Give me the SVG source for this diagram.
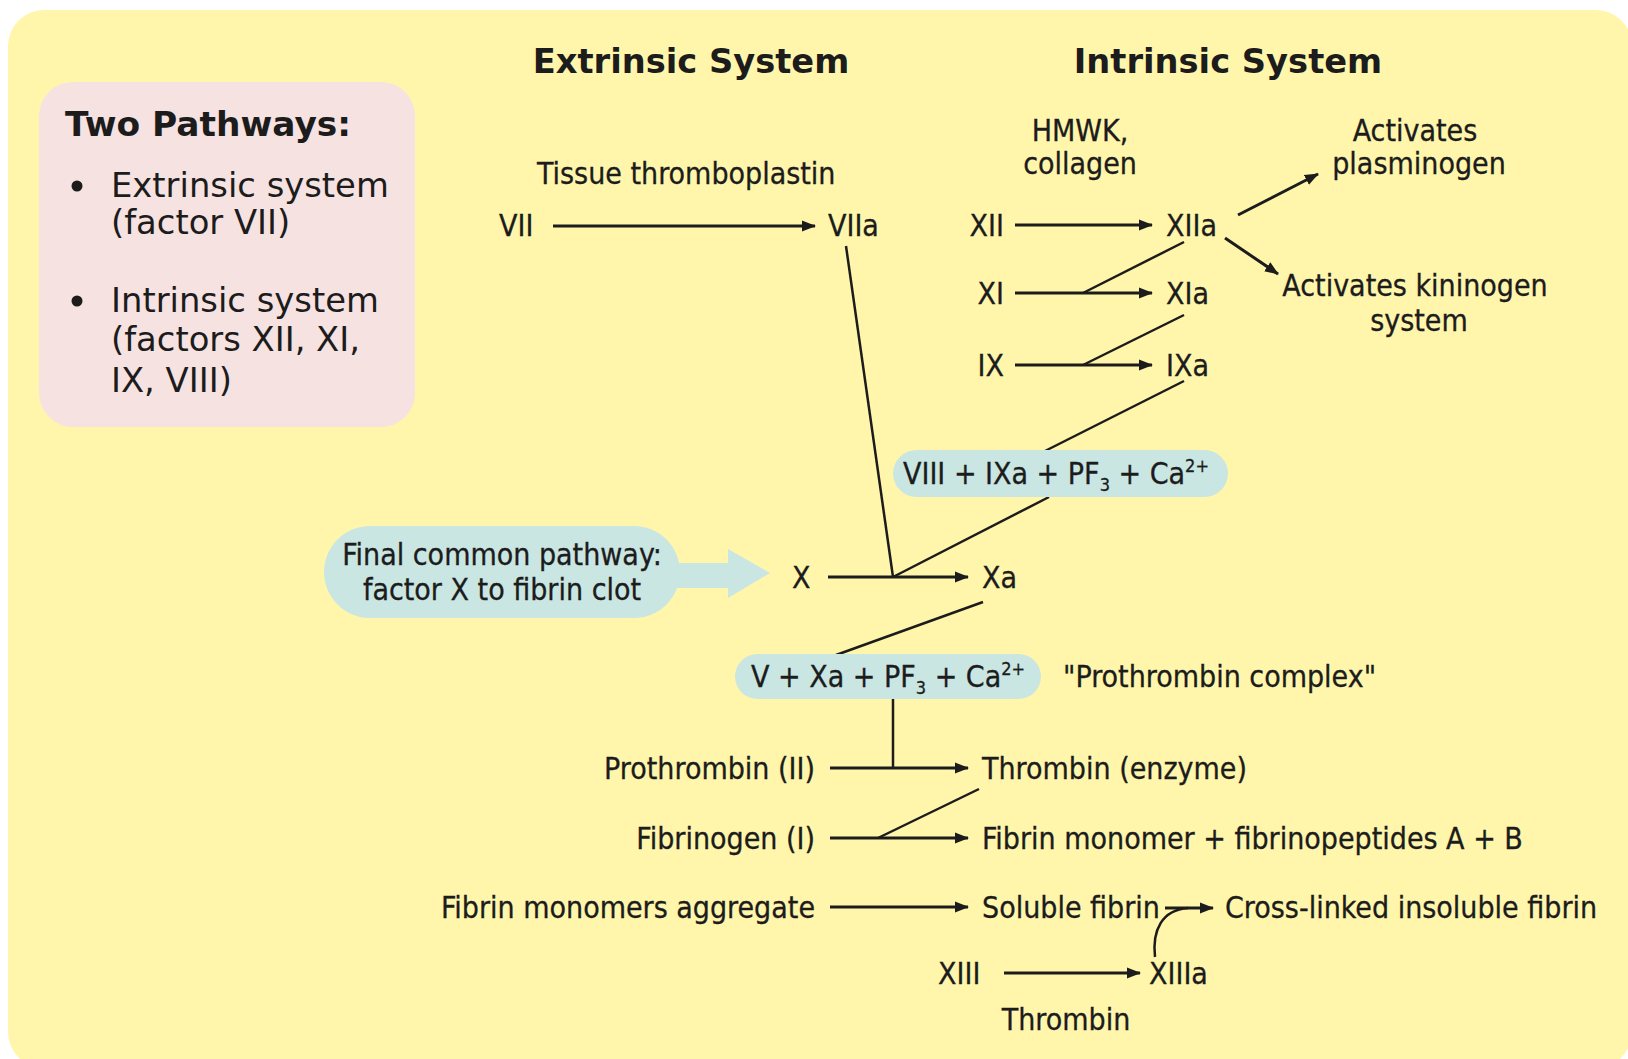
<svg xmlns="http://www.w3.org/2000/svg" width="1628" height="1059" viewBox="0 0 1628 1059">
  <defs>
    <style>
      .t { font-family: "DejaVu Sans Condensed", "DejaVu Sans", sans-serif; font-size: 30px; fill: #1c1c1c; stroke: #1c1c1c; stroke-width: 0.3; }
      .side { font-family: "DejaVu Sans", Verdana, sans-serif; font-size: 33.8px; fill: #1c1c1c; }
      .hdr { font-family: "DejaVu Sans", Verdana, sans-serif; font-size: 33.7px; font-weight: bold; fill: #1c1c1c; }
      .mid { text-anchor: middle; }
      .end { text-anchor: end; }
      .pill { fill: #C9E6E3; }
      .arr { stroke: #1c1c1c; stroke-width: 3; fill: none; marker-end: url(#head); }
      .ln { stroke: #1c1c1c; stroke-width: 2.5; fill: none; }
      .sub { font-size: 18px; }
    </style>
    <marker id="head" markerUnits="userSpaceOnUse" markerWidth="14" markerHeight="14" viewBox="0 0 14 14" refX="13" refY="7" orient="auto">
      <path d="M0,1.5 L14,7 L0,12.5 Z" fill="#1c1c1c"/>
    </marker>
  </defs>

  <!-- backdrop -->
  <rect x="8" y="10" width="1624" height="1058" rx="36" fill="#FFF6AC"/>

  <!-- summary box -->
  <g id="summary">
    <rect x="39" y="82" width="376" height="345" rx="34" fill="#F6E2E0"/>
    <text class="hdr" x="65" y="136" style="font-size:34.4px">Two Pathways:</text>
    <circle cx="77" cy="186" r="5.5" fill="#1c1c1c"/>
    <text class="side" x="111" y="197">Extrinsic system</text>
    <text class="side" x="111" y="234">(factor VII)</text>
    <circle cx="77" cy="301" r="5.5" fill="#1c1c1c"/>
    <text class="side" x="111" y="312">Intrinsic system</text>
    <text class="side" x="111" y="351">(factors XII, XI,</text>
    <text class="side" x="111" y="392">IX, VIII)</text>
  </g>

  <!-- column headings -->
  <g id="headings">
    <text class="hdr mid" x="691" y="73">Extrinsic System</text>
    <text class="hdr mid" x="1228" y="73">Intrinsic System</text>
  </g>

  <!-- connectors -->
  <g id="connectors">
    <!-- extrinsic -->
    <line class="arr" x1="553" y1="226" x2="815" y2="226"/>
    <line class="ln" x1="846" y1="246" x2="893" y2="577"/>
    <!-- intrinsic cascade -->
    <line class="arr" x1="1015" y1="225" x2="1152" y2="225"/>
    <line class="arr" x1="1238" y1="215" x2="1318" y2="174"/>
    <line class="arr" x1="1225" y1="238" x2="1278" y2="274"/>
    <line class="arr" x1="1015" y1="293" x2="1152" y2="293"/>
    <line class="ln" x1="1184" y1="242" x2="1083" y2="293"/>
    <line class="arr" x1="1015" y1="365" x2="1152" y2="365"/>
    <line class="ln" x1="1184" y1="315" x2="1083" y2="365"/>
    <line class="ln" x1="1184" y1="381" x2="1045" y2="451"/>
    <line class="ln" x1="1049" y1="497" x2="893" y2="577"/>
    <!-- common pathway -->
    <line class="arr" x1="828" y1="577" x2="968" y2="577"/>
    <line class="ln" x1="983" y1="602" x2="836" y2="655"/>
    <line class="ln" x1="893" y1="699" x2="893" y2="768"/>
    <line class="arr" x1="830" y1="768" x2="968" y2="768"/>
    <line class="ln" x1="979" y1="789" x2="878" y2="838"/>
    <line class="arr" x1="830" y1="838" x2="968" y2="838"/>
    <line class="arr" x1="830" y1="907" x2="968" y2="907"/>
    <line class="arr" x1="1165" y1="908" x2="1213" y2="908"/>
    <path class="ln" d="M1155,957 C1152,930 1162,910 1188,908"/>
    <line class="arr" x1="1004" y1="973" x2="1140" y2="973"/>
  </g>

  <!-- extrinsic nodes -->
  <g id="tissue-thromboplastin"><text class="t" x="537" y="184">Tissue thromboplastin</text></g>
  <g id="f7"><text class="t" x="499" y="236">VII</text></g>
  <g id="f7a"><text class="t" x="828" y="236">VIIa</text></g>

  <!-- intrinsic nodes -->
  <g id="hmwk">
    <text class="t mid" x="1080" y="141">HMWK,</text>
    <text class="t mid" x="1080" y="174">collagen</text>
  </g>
  <g id="plasminogen">
    <text class="t mid" x="1415" y="141">Activates</text>
    <text class="t mid" x="1419" y="174">plasminogen</text>
  </g>
  <g id="kininogen">
    <text class="t mid" x="1415" y="296">Activates kininogen</text>
    <text class="t mid" x="1419" y="331">system</text>
  </g>
  <g id="f12"><text class="t end" x="1004" y="236">XII</text></g>
  <g id="f12a"><text class="t" x="1166" y="236">XIIa</text></g>
  <g id="f11"><text class="t end" x="1004" y="304">XI</text></g>
  <g id="f11a"><text class="t" x="1166" y="304">XIa</text></g>
  <g id="f9"><text class="t end" x="1004" y="376">IX</text></g>
  <g id="f9a"><text class="t" x="1166" y="376">IXa</text></g>

  <g id="tenase">
    <rect class="pill" x="893" y="450" width="335" height="47" rx="23.5"/>
    <text class="t" x="903" y="484">VIII + IXa + PF<tspan class="sub" dy="7">3</tspan><tspan dy="-7"> + Ca</tspan><tspan class="sub" dy="-12">2+</tspan></text>
  </g>

  <!-- common pathway -->
  <g id="final-common">
    <rect class="pill" x="324" y="526" width="356" height="92" rx="46"/>
    <path class="pill" d="M670,563 H728 V549 L770,573 L728,598 V588 H670 Z"/>
    <text class="t mid" x="502" y="565">Final common pathway:</text>
    <text class="t mid" x="502" y="600">factor X to fibrin clot</text>
  </g>
  <g id="f10"><text class="t" x="792" y="588">X</text></g>
  <g id="f10a"><text class="t" x="982" y="588">Xa</text></g>

  <g id="prothrombinase">
    <rect class="pill" x="735" y="654" width="306" height="45" rx="22.5"/>
    <text class="t" x="751" y="687">V + Xa + PF<tspan class="sub" dy="7">3</tspan><tspan dy="-7"> + Ca</tspan><tspan class="sub" dy="-12">2+</tspan></text>
  </g>
  <g id="prothrombin-complex"><text class="t" x="1063" y="687">"Prothrombin complex"</text></g>

  <g id="prothrombin"><text class="t end" x="815" y="779">Prothrombin (II)</text></g>
  <g id="thrombin"><text class="t" x="982" y="779">Thrombin (enzyme)</text></g>
  <g id="fibrinogen"><text class="t end" x="815" y="849">Fibrinogen (I)</text></g>
  <g id="fibrin-monomer"><text class="t" x="982" y="849">Fibrin monomer + fibrinopeptides A + B</text></g>
  <g id="aggregate"><text class="t end" x="815" y="918">Fibrin monomers aggregate</text></g>
  <g id="soluble-fibrin"><text class="t" x="982" y="918">Soluble fibrin</text></g>
  <g id="cross-linked"><text class="t" x="1225" y="918">Cross-linked insoluble fibrin</text></g>
  <g id="f13"><text class="t" x="938" y="984">XIII</text></g>
  <g id="f13a"><text class="t" x="1149" y="984">XIIIa</text></g>
  <g id="thrombin-label"><text class="t mid" x="1066" y="1030">Thrombin</text></g>
</svg>
